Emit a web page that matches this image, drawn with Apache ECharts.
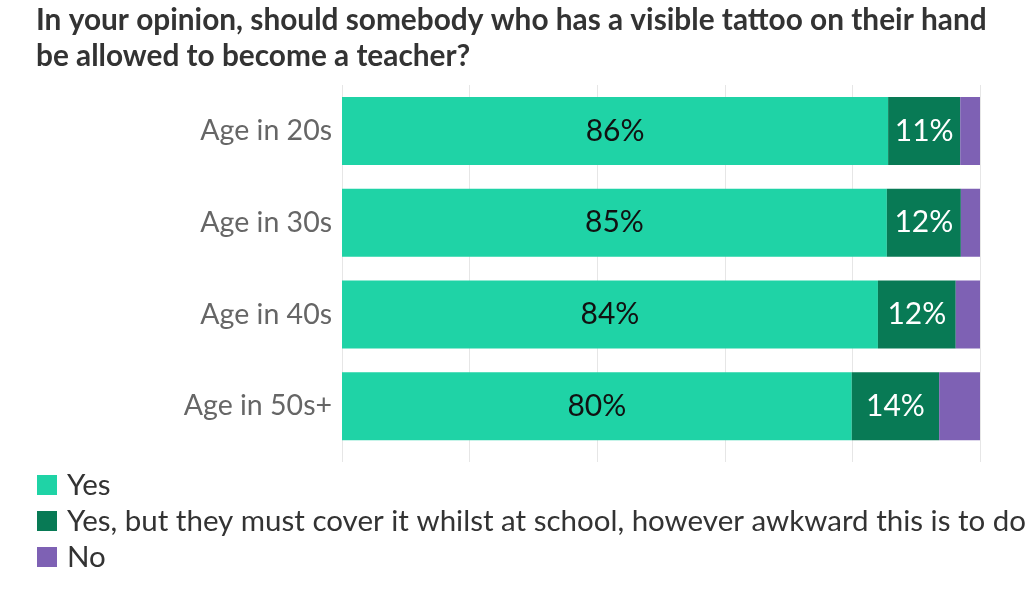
<!DOCTYPE html>
<html><head><meta charset="utf-8">
<script src="https://cdn.jsdelivr.net/npm/echarts@6/dist/echarts.min.js"></script>
<style>html,body{margin:0;padding:0;background:#fff}#c{width:1029px;height:591px}</style>
</head><body><div id="c"></div>
<script>
var categories = ['Age in 20s', 'Age in 30s', 'Age in 40s', 'Age in 50s+'];
var seriesNames = ['Yes', 'Yes, but they must cover it whilst at school, however awkward this is to do', 'No'];
var yesValues = [85.6, 85.4, 84.0, 79.9];
var coverValues = [11.3, 11.6, 12.2, 13.7];
var noValues = [3.1, 3.0, 3.8, 6.4];
var colors = ['#1fd3a6', '#087a55', '#7e61b4'];

var chart = echarts.init(document.getElementById('c'));
var FONT = 'Lato';
function lbl(color) {
  return {show: true, position: 'inside', color: color, fontFamily: FONT, fontSize: 30,
    formatter: function (p) { return Math.round(p.value) + '%'; }};
}
chart.setOption({
  animation: false,
  title: {
    text: 'In your opinion, should somebody who has a visible tattoo on their hand\nbe allowed to become a teacher?',
    left: 36, top: 2, padding: 0,
    textStyle: {fontFamily: FONT, fontWeight: 'bold', fontSize: 29.8, color: '#333', lineHeight: 36}
  },
  legend: {
    orient: 'vertical', left: 37, top: 470, padding: 0, itemWidth: 20, itemHeight: 20, itemGap: 6,
    icon: 'rect',
    textStyle: {fontFamily: FONT, fontSize: 29.5, color: '#333', padding: [0, 0, 0, 5]},
    data: seriesNames
  },
  grid: {left: 342, right: 49, top: 85, bottom: 139},
  xAxis: {
    type: 'value', min: 0, max: 100, interval: 20,
    axisLabel: {show: false},
    axisLine: {show: false},
    axisTick: {show: true, length: 10, lineStyle: {color: '#e6e6e6'}},
    splitLine: {show: true, lineStyle: {color: '#e6e6e6'}}
  },
  yAxis: {
    type: 'category', data: categories, inverse: true,
    axisLine: {show: false}, axisTick: {show: false},
    axisLabel: {fontFamily: FONT, fontSize: 28.5, color: '#666', margin: 10}
  },
  series: [
    {name: seriesNames[0], type: 'bar', stack: 't', data: yesValues, barWidth: 68,
     itemStyle: {color: colors[0]}, label: lbl('#111')},
    {name: seriesNames[1], type: 'bar', stack: 't', data: coverValues,
     itemStyle: {color: colors[1]}, label: lbl('#fff')},
    {name: seriesNames[2], type: 'bar', stack: 't', data: noValues,
     itemStyle: {color: colors[2]}, label: {show: false}}
  ]
});
</script></body></html>
